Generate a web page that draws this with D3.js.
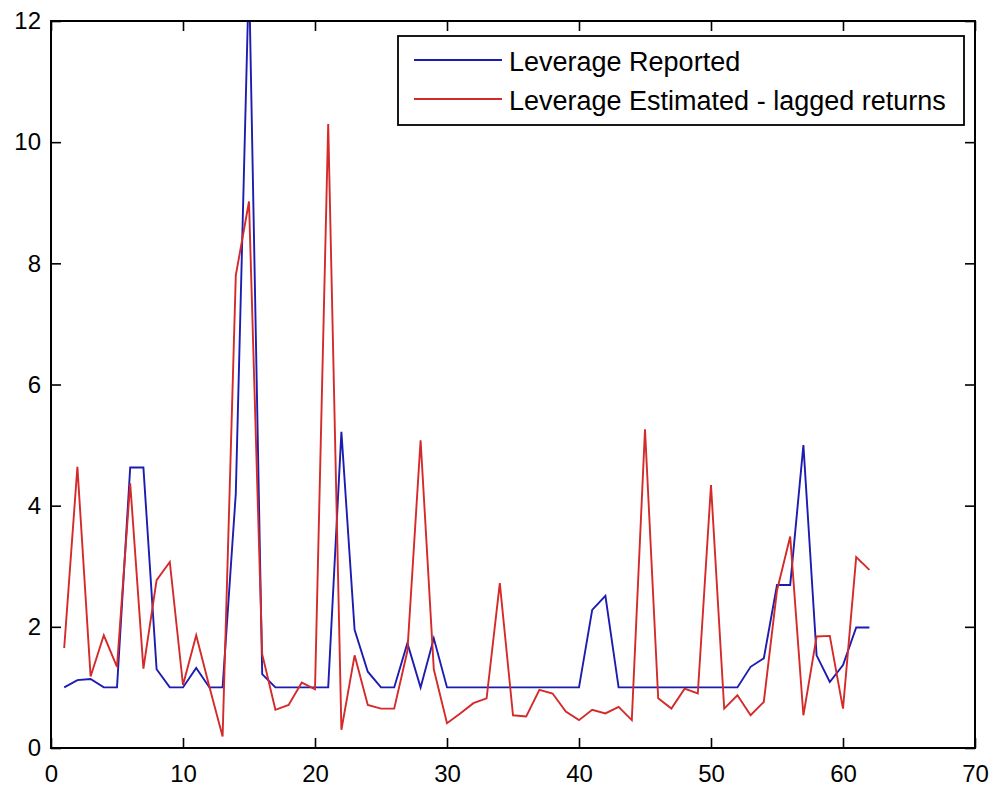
<!DOCTYPE html>
<html lang="en">
  <head>
    <meta charset="UTF-8" />
    <title>Leverage Reported vs Estimated</title>
    <script src="https://d3js.org/d3.v7.min.js"></script>
    <style>
      body {
        margin: 0;
        background: #fff;
      }
      .axis text {
        font-family: Arial, 'Liberation Sans', Helvetica, sans-serif;
        font-size: 24px;
        fill: #000;
      }
      .axis .tick line {
        stroke: #000;
        stroke-width: 1.6;
      }
      .axis path {
        display: none;
      }
      .legend text {
        font-family: Arial, 'Liberation Sans', Helvetica, sans-serif;
        font-size: 27px;
        fill: #000;
      }
    </style>
  </head>
  <body>
    <div id="chart"></div>

    <script>
      // period index along the x axis
      const periods = [
        1, 2, 3, 4, 5, 6, 7, 8, 9, 10, 11, 12, 13, 14, 15, 16, 17, 18, 19, 20,
        21, 22, 23, 24, 25, 26, 27, 28, 29, 30, 31, 32, 33, 34, 35, 36, 37, 38,
        39, 40, 41, 42, 43, 44, 45, 46, 47, 48, 49, 50, 51, 52, 53, 54, 55, 56,
        57, 58, 59, 60, 61, 62,
      ];

      // blue series
      const leverageReported = [
        1.0, 1.12, 1.14, 1.0, 1.0, 4.63, 4.63, 1.3, 1.0, 1.0, 1.32, 1.0, 1.0,
        4.2, 12.8, 1.22, 1.0, 1.0, 1.0, 1.0, 1.0, 5.22, 1.95, 1.26, 1.0, 1.0,
        1.73, 1.0, 1.81, 1.0, 1.0, 1.0, 1.0, 1.0, 1.0, 1.0, 1.0, 1.0, 1.0, 1.0,
        2.28, 2.51, 1.0, 1.0, 1.0, 1.0, 1.0, 1.0, 1.0, 1.0, 1.0, 1.0, 1.34,
        1.48, 2.69, 2.69, 5.0, 1.53, 1.09, 1.37, 1.99, 1.99,
      ];

      // red series
      const leverageEstimated = [
        1.65, 4.64, 1.18, 1.86, 1.34, 4.37, 1.31, 2.77, 3.07, 1.04, 1.86, 1.01,
        0.19, 7.8, 9.02, 1.55, 0.63, 0.71, 1.08, 0.97, 10.3, 0.3, 1.53, 0.71,
        0.65, 0.65, 1.6, 5.08, 1.3, 0.41, 0.57, 0.74, 0.82, 2.72, 0.54, 0.52,
        0.96, 0.9, 0.6, 0.46, 0.63, 0.57, 0.68, 0.46, 5.26, 0.82, 0.65, 0.98,
        0.9, 4.34, 0.65, 0.87, 0.54, 0.76, 2.6, 3.49, 0.54, 1.84, 1.85, 0.65,
        3.15, 2.94,
      ];

      const xTicks = [0, 10, 20, 30, 40, 50, 60, 70];
      const yTicks = [0, 2, 4, 6, 8, 10, 12];
      const seriesNames = [
        'Leverage Reported',
        'Leverage Estimated - lagged returns',
      ];
      const seriesColors = ['#1c1cb0', '#d42a2a'];

      const svgWidth = 995;
      const svgHeight = 786;
      const margin = { top: 21, right: 20, bottom: 38, left: 51 };
      const width = svgWidth - margin.left - margin.right;
      const height = svgHeight - margin.top - margin.bottom;

      const svg = d3
        .select('#chart')
        .append('svg')
        .attr('width', svgWidth)
        .attr('height', svgHeight)
        .append('g')
        .attr('transform', `translate(${margin.left},${margin.top})`);

      const x = d3.scaleLinear().domain([0, 70]).range([0, width]);
      const y = d3.scaleLinear().domain([0, 12]).range([height, 0]);

      svg
        .append('clipPath')
        .attr('id', 'plot-clip')
        .append('rect')
        .attr('width', width)
        .attr('height', height);

      // lines
      const seriesData = [leverageReported, leverageEstimated];
      const line = d3
        .line()
        .x((d) => x(d[0]))
        .y((d) => y(d[1]));

      seriesData.forEach(function (vals, i) {
        svg
          .append('path')
          .datum(periods.map((p, j) => [p, vals[j]]))
          .attr('clip-path', 'url(#plot-clip)')
          .attr('fill', 'none')
          .attr('stroke', seriesColors[i])
          .attr('stroke-width', 1.9)
          .attr('d', line);
      });

      // axes, ticks pointing inward like matlab
      svg
        .append('g')
        .attr('class', 'axis')
        .attr('transform', `translate(0,${height})`)
        .call(
          d3.axisBottom(x).tickValues(xTicks).tickSize(-10).tickPadding(17),
        );

      svg
        .append('g')
        .attr('class', 'axis')
        .call(
          d3.axisLeft(y).tickValues(yTicks).tickSize(-10).tickPadding(10),
        );

      svg
        .append('g')
        .attr('class', 'axis')
        .call(d3.axisTop(x).tickValues(xTicks).tickSize(-10).tickFormat(''));

      svg
        .append('g')
        .attr('class', 'axis')
        .attr('transform', `translate(${width},0)`)
        .call(
          d3.axisRight(y).tickValues(yTicks).tickSize(-10).tickFormat(''),
        );

      // frame
      svg
        .append('rect')
        .attr('width', width)
        .attr('height', height)
        .attr('fill', 'none')
        .attr('stroke', '#000')
        .attr('stroke-width', 2);

      // legend
      const legend = svg
        .append('g')
        .attr('class', 'legend')
        .attr('transform', `translate(${398 - margin.left},${36 - margin.top})`);

      legend
        .append('rect')
        .attr('width', 566)
        .attr('height', 89)
        .attr('fill', '#fff')
        .attr('stroke', '#000')
        .attr('stroke-width', 1.8);

      seriesNames.forEach(function (name, i) {
        const row = legend
          .append('g')
          .attr('transform', `translate(0,${24 + i * 39})`);
        row
          .append('line')
          .attr('x1', 16)
          .attr('x2', 104)
          .attr('stroke', seriesColors[i])
          .attr('stroke-width', 1.9);
        row
          .append('text')
          .attr('x', 111)
          .attr('y', 11)
          .text(name);
      });
    </script>
  </body>
</html>
